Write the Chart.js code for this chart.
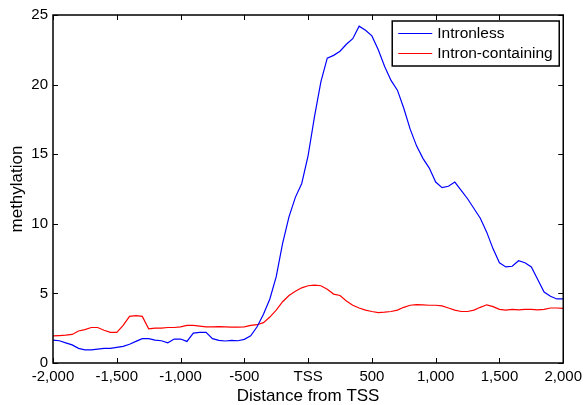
<!DOCTYPE html>
<html lang="en">
<head>
    <meta charset="UTF-8">
    <title>Methylation around TSS</title>
    <style>
      html, body { margin: 0; padding: 0; background: #fff; }
      #wrap { width: 587px; height: 405px; }
    </style>
</head>
<body>
<div id="wrap">
  <canvas id="myChart" width="587" height="405"></canvas>
</div>
<script src="https://cdn.jsdelivr.net/npm/chart.js"></script>
<script>
  // distance from TSS (bp), one point every 50 bp
  const distance = [
    -2000, -1950, -1900, -1850, -1800, -1750, -1700, -1650, -1600, -1550,
    -1500, -1450, -1400, -1350, -1300, -1250, -1200, -1150, -1100, -1050,
    -1000, -950, -900, -850, -800, -750, -700, -650, -600, -550,
    -500, -450, -400, -350, -300, -250, -200, -150, -100, -50,
    0, 50, 100, 150, 200, 250, 300, 350, 400, 450,
    500, 550, 600, 650, 700, 750, 800, 850, 900, 950,
    1000, 1050, 1100, 1150, 1200, 1250, 1300, 1350, 1400, 1450,
    1500, 1550, 1600, 1650, 1700, 1750, 1800, 1850, 1900, 1950, 2000
  ];
  const intronless = [
    1.65, 1.6, 1.45, 1.3, 1.05, 0.95, 0.95, 1.0, 1.05, 1.05,
    1.12, 1.2, 1.35, 1.55, 1.75, 1.75, 1.65, 1.6, 1.45, 1.72,
    1.72, 1.55, 2.15, 2.2, 2.2, 1.75, 1.62, 1.58, 1.62, 1.6,
    1.7, 1.95, 2.6, 3.5, 4.6, 6.2, 8.6, 10.5, 11.9, 12.9,
    14.9, 17.7, 20.2, 21.9, 22.1, 22.4, 22.9, 23.3, 24.2, 23.9,
    23.5, 22.5, 21.3, 20.3, 19.6, 18.3, 16.8, 15.6, 14.7, 14.0,
    13.0, 12.6, 12.7, 13.0, 12.4, 11.8, 11.1, 10.4, 9.4, 8.2,
    7.2, 6.9, 6.95, 7.35, 7.2, 6.9, 6.0, 5.1, 4.8, 4.6, 4.6
  ];
  const intronContaining = [
    1.95, 1.97, 2.0, 2.05, 2.3, 2.4, 2.55, 2.55, 2.35, 2.2,
    2.2, 2.7, 3.35, 3.4, 3.35, 2.45, 2.5, 2.5, 2.55, 2.55,
    2.6, 2.7, 2.7, 2.65, 2.6, 2.6, 2.62, 2.6, 2.58, 2.58,
    2.6, 2.7, 2.75, 2.9, 3.3, 3.8, 4.4, 4.85, 5.15, 5.4,
    5.55, 5.6, 5.55, 5.3, 4.95, 4.85, 4.45, 4.15, 3.95, 3.8,
    3.7, 3.62, 3.65, 3.7, 3.8, 4.0, 4.15, 4.2, 4.18, 4.15,
    4.15, 4.1, 3.95, 3.8, 3.7, 3.7, 3.8, 4.0, 4.18, 4.05,
    3.85, 3.8, 3.85, 3.82, 3.85, 3.85, 3.82, 3.85, 3.95, 3.95, 3.93
  ];
  const seriesNames = ['Intronless', 'Intron-containing'];
  const seriesColors = ['#0000ff', '#ff0000'];

  const fontFamily = '"Liberation Sans", Arial, Helvetica, sans-serif';

  function toPoints(ys) {
    return distance.map((d, i) => ({ x: d, y: ys[i] }));
  }

  // box round the axes and MATLAB style inward ticks on all four sides
  const frame = {
    id: 'frame',
    afterDatasetsDraw(chart) {
      const { ctx, chartArea, scales } = chart;
      const { left, right, top, bottom } = chartArea;
      ctx.save();
      ctx.strokeStyle = '#000';
      ctx.lineWidth = 1;
      const t = 5;
      ctx.beginPath();
      scales.x.ticks.forEach(tk => {
        const px = Math.round(scales.x.getPixelForValue(tk.value)) + 0.5;
        ctx.moveTo(px, bottom); ctx.lineTo(px, bottom - t);
        ctx.moveTo(px, top); ctx.lineTo(px, top + t);
      });
      scales.y.ticks.forEach(tk => {
        const py = Math.round(scales.y.getPixelForValue(tk.value)) + 0.5;
        ctx.moveTo(left, py); ctx.lineTo(left + t, py);
        ctx.moveTo(right, py); ctx.lineTo(right - t, py);
      });
      ctx.stroke();
      ctx.lineWidth = 1.5;
      ctx.strokeRect(left, top, right - left, bottom - top);
      ctx.restore();
    }
  };

  // legend box in the top right corner
  const boxLegend = {
    id: 'boxLegend',
    afterDraw(chart) {
      const { ctx, chartArea } = chart;
      const bx = chartArea.right - 171, by = chartArea.top + 6, bw = 167, bh = 45;
      ctx.save();
      ctx.fillStyle = '#fff';
      ctx.fillRect(bx, by, bw, bh);
      ctx.strokeStyle = '#000';
      ctx.lineWidth = 1.5;
      ctx.strokeRect(bx, by, bw, bh);
      ctx.font = '15.5px ' + fontFamily;
      ctx.textBaseline = 'middle';
      ctx.textAlign = 'left';
      chart.data.datasets.forEach((ds, i) => {
        const y = by + 12 + i * 20;
        ctx.strokeStyle = seriesColors[i];
        ctx.lineWidth = 1.2;
        ctx.beginPath();
        ctx.moveTo(bx + 6, y + 0.5);
        ctx.lineTo(bx + 40, y + 0.5);
        ctx.stroke();
        ctx.fillStyle = '#000';
        ctx.fillText(ds.label, bx + 45, y + 1);
      });
      ctx.restore();
    }
  };

  const ctx = document.getElementById('myChart');
  new Chart(ctx, {
    type: 'line',
    data: {
      datasets: [
        { label: seriesNames[0], data: toPoints(intronless), borderColor: seriesColors[0], borderWidth: 1.2 },
        { label: seriesNames[1], data: toPoints(intronContaining), borderColor: seriesColors[1], borderWidth: 1.2 }
      ]
    },
    options: {
      responsive: false,
      animation: false,
      elements: { point: { radius: 0 }, line: { tension: 0, fill: false } },
      layout: { padding: { top: 15, right: 21, left: 0, bottom: 0 } },
      plugins: { legend: { display: false }, tooltip: { enabled: false } },
      scales: {
        x: {
          type: 'linear',
          min: -2000, max: 2000,
          grid: { display: false, drawTicks: false },
          border: { display: false },
          afterFit(scale) { scale.height = 42; },
          ticks: {
            stepSize: 500,
            padding: 5,
            maxRotation: 0,
            autoSkip: false,
            color: '#000',
            font: { family: fontFamily, size: 15 },
            callback: v => v === 0 ? 'TSS' : v.toLocaleString('en-US')
          },
          title: {
            display: true,
            text: 'Distance from TSS',
            color: '#000',
            font: { family: fontFamily, size: 17, lineHeight: 1 },
            padding: { top: 0, bottom: 0 }
          }
        },
        y: {
          min: 0, max: 25,
          grid: { display: false, drawTicks: false },
          border: { display: false },
          afterFit(scale) { scale.width = 53; },
          ticks: {
            stepSize: 5,
            padding: 5,
            color: '#000',
            font: { family: fontFamily, size: 15 }
          },
          title: {
            display: true,
            text: 'methylation',
            color: '#000',
            font: { family: fontFamily, size: 17, lineHeight: 1 },
            padding: { top: 9, bottom: 0 }
          }
        }
      }
    },
    plugins: [frame, boxLegend]
  });
</script>
</body>
</html>
